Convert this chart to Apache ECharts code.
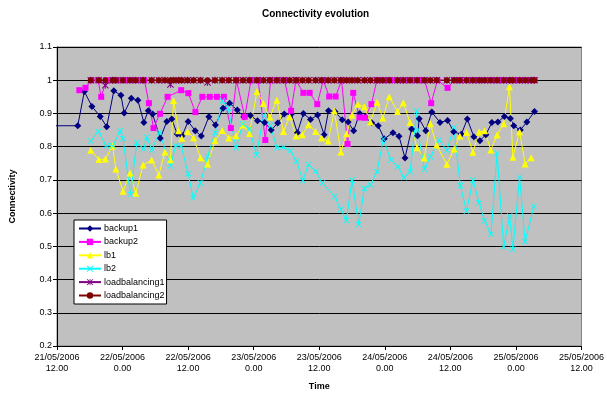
<!DOCTYPE html>
<html><head><meta charset="utf-8">
<script src="https://cdn.jsdelivr.net/npm/echarts@6/dist/echarts.min.js"></script>
<style>html,body{margin:0;padding:0;background:#fff}#c{width:607px;height:399px}</style>
</head><body><div id="c"></div>
<script>
// Time values are hours after 21/05/2006 12.00
const xTickLabels = ['21/05/2006\n12.00','22/05/2006\n0.00','22/05/2006\n12.00','23/05/2006\n0.00','23/05/2006\n12.00','24/05/2006\n0.00','24/05/2006\n12.00','25/05/2006\n0.00','25/05/2006\n12.00'];

const backup1Hours = [-6.7, 3.8, 5.0, 6.4, 7.9, 9.1, 10.4, 11.7, 12.3, 13.6, 14.8, 15.9, 16.7, 17.5, 18.9, 20.1, 21.0, 22.0, 22.9, 24.0, 25.3, 26.4, 27.8, 29.0, 30.4, 31.6, 33.0, 34.2, 35.4, 36.7, 38.0, 39.2, 40.4, 41.6, 42.9, 44.0, 45.1, 46.4, 47.7, 48.9, 49.7, 50.9, 52.2, 53.3, 54.3, 55.4, 56.4, 57.6, 58.8, 59.9, 61.5, 62.6, 63.7, 64.9, 66.0, 66.3, 67.5, 68.6, 70.1, 71.5, 72.6, 74.0, 75.1, 76.3, 77.4, 78.5, 79.6, 80.7, 81.9, 83.0, 83.6, 84.8, 86.0, 87.4];
const backup1Values = [0.863, 0.863, 0.966, 0.921, 0.891, 0.860, 0.968, 0.955, 0.901, 0.946, 0.940, 0.873, 0.908, 0.898, 0.825, 0.876, 0.883, 0.838, 0.833, 0.876, 0.848, 0.832, 0.890, 0.865, 0.916, 0.931, 0.910, 0.890, 0.894, 0.878, 0.873, 0.850, 0.871, 0.898, 0.898, 0.842, 0.900, 0.882, 0.895, 0.836, 0.908, 0.905, 0.881, 0.874, 0.848, 0.900, 0.889, 0.872, 0.863, 0.824, 0.842, 0.831, 0.766, 0.853, 0.833, 0.884, 0.848, 0.904, 0.873, 0.879, 0.845, 0.837, 0.883, 0.830, 0.818, 0.836, 0.873, 0.874, 0.891, 0.885, 0.863, 0.850, 0.874, 0.906];

const backup2Hours = [4.09, 5.22, 6.31, 7.51, 8.09, 9.04, 10.18, 11.45, 12.73, 14.0, 15.27, 16.0, 16.82, 17.67, 18.85, 20.24, 22.73, 24.04, 25.33, 26.6, 27.95, 29.27, 30.55, 31.82, 32.85, 34.36, 35.51, 36.82, 38.13, 39.09, 40.36, 41.64, 42.85, 43.73, 45.09, 46.24, 47.64, 48.73, 49.82, 51.0, 52.09, 53.18, 54.22, 55.36, 56.36, 57.55, 58.55, 59.64, 60.73, 61.82, 63.09, 64.18, 65.27, 66.36, 67.27, 68.49, 69.64, 71.49, 72.73, 73.82, 75.09, 76.18, 77.27, 78.55, 79.64, 80.73, 81.82, 82.91, 84.0, 85.09, 86.18, 87.4];
const backup2Values = [0.970, 0.977, 1, 1, 0.950, 1, 1, 1, 1, 1, 1, 1, 0.931, 0.856, 0.899, 0.950, 0.970, 0.961, 0.904, 0.950, 0.950, 0.950, 0.950, 0.856, 1, 0.890, 1, 1, 0.820, 1, 1, 1, 0.908, 1, 0.962, 0.962, 0.928, 1, 0.951, 0.951, 1, 0.808, 0.962, 0.888, 0.887, 0.928, 1, 1, 1, 1, 1, 1, 1, 1, 1, 0.931, 1, 0.977, 1, 1, 1, 1, 1, 1, 1, 1, 1, 1, 1, 1, 1, 1];

const lb1Hours = [6.18, 7.67, 8.85, 10.18, 10.76, 12.09, 13.36, 14.42, 15.76, 17.33, 18.64, 19.76, 20.76, 21.33, 22.24, 22.85, 23.91, 25.0, 26.27, 27.55, 28.91, 30.24, 31.45, 32.78, 34.05, 35.22, 36.6, 37.78, 38.96, 40.24, 41.45, 42.58, 43.78, 44.91, 46.05, 47.33, 48.45, 49.64, 50.76, 51.96, 53.0, 54.0, 55.05, 56.27, 57.36, 58.58, 59.64, 60.82, 62.33, 63.4, 64.6, 65.91, 67.22, 68.33, 69.49, 71.36, 72.69, 73.73, 74.95, 76.13, 77.27, 78.27, 79.4, 80.55, 81.76, 82.82, 83.45, 84.67, 85.69, 86.78];
const lb1Values = [0.789, 0.761, 0.763, 0.802, 0.733, 0.666, 0.721, 0.660, 0.745, 0.760, 0.715, 0.784, 0.760, 0.939, 0.848, 0.825, 0.845, 0.827, 0.767, 0.748, 0.818, 0.849, 0.826, 0.833, 0.865, 0.840, 0.966, 0.930, 0.889, 0.940, 0.846, 0.890, 0.832, 0.836, 0.866, 0.846, 0.826, 0.817, 0.907, 0.784, 0.839, 0.895, 0.928, 0.920, 0.874, 0.934, 0.886, 0.950, 0.906, 0.932, 0.873, 0.797, 0.766, 0.869, 0.805, 0.747, 0.793, 0.832, 0.843, 0.783, 0.844, 0.848, 0.790, 0.835, 0.869, 0.980, 0.768, 0.845, 0.748, 0.767];

const lb2Hours = [6.18, 7.55, 9.0, 10.22, 11.55, 12.09, 13.45, 14.6, 15.85, 16.45, 17.36, 18.76, 20.76, 21.73, 22.73, 24.0, 24.95, 26.27, 27.55, 28.96, 30.27, 31.33, 32.78, 34.0, 35.22, 36.51, 37.82, 39.04, 40.27, 41.45, 42.67, 43.82, 45.0, 46.05, 47.36, 48.55, 50.82, 51.95, 52.96, 54.0, 55.22, 56.27, 57.36, 58.58, 59.73, 61.13, 62.4, 63.49, 64.64, 65.85, 66.0, 67.27, 68.33, 69.96, 71.36, 72.64, 73.82, 74.95, 76.15, 77.24, 78.27, 79.45, 80.55, 81.76, 82.85, 83.45, 84.67, 85.69, 87.27];
const lb2Values = [0.817, 0.846, 0.803, 0.802, 0.848, 0.824, 0.656, 0.812, 0.793, 0.828, 0.790, 0.844, 0.742, 0.803, 0.802, 0.719, 0.646, 0.691, 0.770, 0.843, 0.938, 0.916, 0.797, 0.868, 0.853, 0.775, 0.895, 0.863, 0.797, 0.798, 0.788, 0.757, 0.698, 0.746, 0.726, 0.691, 0.650, 0.611, 0.578, 0.700, 0.566, 0.675, 0.685, 0.725, 0.823, 0.760, 0.740, 0.707, 0.725, 0.907, 0.850, 0.732, 0.770, 0.820, 0.789, 0.858, 0.683, 0.606, 0.700, 0.631, 0.577, 0.537, 0.780, 0.498, 0.591, 0.491, 0.708, 0.514, 0.620];

const loadbalancingHours = [6.18, 7.67, 8.85, 10.18, 10.76, 12.09, 13.36, 14.42, 15.76, 17.33, 18.64, 19.76, 20.76, 21.33, 22.24, 22.85, 23.91, 25.0, 26.27, 27.55, 28.91, 30.24, 31.45, 32.78, 34.05, 35.22, 36.6, 37.78, 38.96, 40.24, 41.45, 42.58, 43.78, 44.91, 46.05, 47.33, 48.45, 49.64, 50.76, 51.96, 53.0, 54.0, 55.05, 56.27, 57.36, 58.58, 59.64, 60.82, 62.33, 63.4, 64.6, 65.91, 67.22, 68.33, 69.49, 71.36, 72.69, 73.73, 74.95, 76.13, 77.27, 78.27, 79.4, 80.55, 81.76, 82.82, 83.45, 84.67, 85.69, 86.78, 87.4];
const loadbalancing1Values = [1, 1, 0.985, 1, 1, 1, 1, 1, 1, 1, 1, 1, 0.987, 1, 1, 1, 1, 1, 1, 0.993, 1, 1, 1, 1, 1, 1, 1, 1, 1, 1, 1, 1, 1, 1, 1, 1, 1, 1, 1, 1, 1, 1, 1, 1, 1, 1, 1, 1, 1, 1, 1, 1, 1, 1, 1, 1, 1, 1, 1, 1, 1, 1, 1, 1, 1, 1, 1, 1, 1, 1, 1];
const loadbalancing2Values = [1, 1, 1, 1, 1, 1, 1, 1, 1, 1, 1, 1, 1, 1, 1, 1, 1, 1, 1, 1, 1, 1, 1, 1, 1, 1, 1, 1, 1, 1, 1, 1, 1, 1, 1, 1, 1, 1, 1, 1, 1, 1, 1, 1, 1, 1, 1, 1, 1, 1, 1, 1, 1, 1, 1, 1, 1, 1, 1, 1, 1, 1, 1, 1, 1, 1, 1, 1, 1, 1, 1];

// points before the axis start are drawn as line only (no marker)
function zip(h, v){
  const n=Math.min(h.length,v.length); const out=[];
  for(let i=0;i<n;i++){
    if(h[i] < 0) out.push({value:[h[i], v[i]], symbol:'none'});
    else out.push([h[i], v[i]]);
  }
  return out;
}

const X_PATH = 'path://M0,1L1,0L5,4L9,0L10,1L6,5L10,9L9,10L5,6L1,10L0,9L4,5Z';
const STAR_PATH = 'path://M0,1L1,0L5,4L9,0L10,1L6,5L10,9L9,10L5,6L1,10L0,9L4,5Z M4.4,0L5.6,0L5.6,10L4.4,10Z';

function mk(name, data, color, symbol, size, extra){
  return Object.assign({
    name, type:'line', data, symbol, symbolSize:size,
    lineStyle:{color, width:1}, itemStyle:{color, borderWidth:0},
    emphasis:{disabled:true}, z:2
  }, extra||{});
}

const chart = echarts.init(document.getElementById('c'), null, {renderer:'canvas'});
const FONT = 'Arial, "Liberation Sans", sans-serif';
chart.setOption({
  animation:false,
  backgroundColor:'#ffffff',
  textStyle:{fontFamily:FONT},
  title:{text:'Connectivity evolution', left:257, top:4,
    textStyle:{fontSize:10, fontWeight:'bold', color:'#000', fontFamily:FONT}},
  grid:{left:57, right:22, top:47, bottom:53, show:true, backgroundColor:'#C0C0C0', borderColor:'#808080', borderWidth:1},
  legend:{
    orient:'vertical', left:74, top:220,
    backgroundColor:'#ffffff', borderColor:'#000', borderWidth:1, borderRadius:0,
    padding:[4,2,4,4], itemGap:4.4, itemWidth:22, itemHeight:8,
    textStyle:{fontSize:9, color:'#000', fontFamily:FONT, padding:[0,0,0,-2]},
    data:['backup1','backup2','lb1','lb2','loadbalancing1','loadbalancing2']
  },
  xAxis:{
    type:'value', min:0, max:96, interval:12,
    name:'Time', nameLocation:'middle', nameGap:36,
    nameTextStyle:{fontSize:9, fontWeight:'bold', color:'#000', fontFamily:FONT},
    axisLine:{show:true, lineStyle:{color:'#000', width:1}},
    axisTick:{show:true, length:4, lineStyle:{color:'#000'}},
    axisLabel:{fontSize:9, color:'#000', lineHeight:11, margin:6, fontFamily:FONT,
      formatter:(v)=>xTickLabels[Math.round(v/12)] || ''},
    splitLine:{show:false}
  },
  yAxis:{
    type:'value', min:0.2, max:1.1, interval:0.1,
    name:'Connectivity', nameLocation:'middle', nameGap:40, nameRotate:90,
    nameTextStyle:{fontSize:9, fontWeight:'bold', color:'#000', fontFamily:FONT},
    axisLine:{show:true, lineStyle:{color:'#000', width:1}},
    axisTick:{show:true, length:4, lineStyle:{color:'#000'}},
    axisLabel:{fontSize:9, color:'#000', margin:5, fontFamily:FONT,
      formatter:(v)=>String(Math.round(v*10)/10)},
    splitLine:{show:true, lineStyle:{color:'#000', width:1}}
  },
  series:[
    mk('backup1', zip(backup1Hours, backup1Values), '#000080', 'diamond', 7, {clip:false}),
    mk('backup2', zip(backup2Hours, backup2Values), '#FF00FF', 'rect', 6),
    mk('lb1', zip(lb1Hours, lb1Values), '#FFFF00', 'triangle', 7),
    mk('lb2', zip(lb2Hours, lb2Values), '#00FFFF', X_PATH, 6),
    mk('loadbalancing1', zip(loadbalancingHours, loadbalancing1Values), '#800080', STAR_PATH, 7),
    mk('loadbalancing2', zip(loadbalancingHours, loadbalancing2Values), '#800000', 'circle', 6)
  ]
});
</script></body></html>
